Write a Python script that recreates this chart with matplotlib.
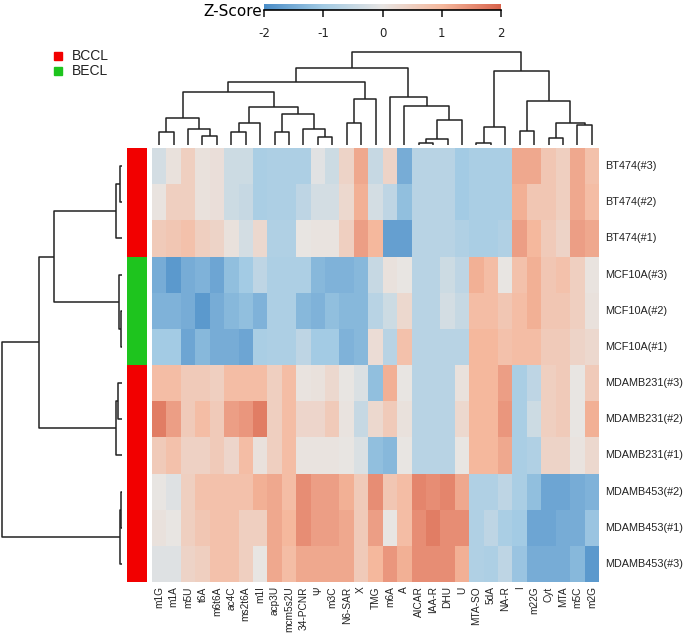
import numpy as np
import matplotlib
matplotlib.use("Agg")
import matplotlib.pyplot as plt
from matplotlib.colors import LinearSegmentedColormap, ListedColormap
from matplotlib.patches import Rectangle

# ---------------- data ----------------
col_labels = ["m1G", "m1A", "m5U", "t6A", "m6t6A", "ac4C", "ms2t6A", "m1I", "acp3U",
              "mcm5s2U", "34-PCNR", "Ψ", "m3C", "N6-SAR", "X", "TMG", "m6A", "A",
              "AICAR", "IAA-R", "DHU", "U", "MTA-SO", "5dA", "NA-R", "I", "m22G",
              "Cyt", "MTA", "m5C", "m2G"]
row_labels = ["BT474(#3)", "BT474(#2)", "BT474(#1)", "MCF10A(#3)", "MCF10A(#2)",
              "MCF10A(#1)", "MDAMB231(#3)", "MDAMB231(#2)", "MDAMB231(#1)",
              "MDAMB453(#2)", "MDAMB453(#1)", "MDAMB453(#3)"]
row_group = ["BCCL", "BCCL", "BCCL", "BECL", "BECL", "BECL",
             "BCCL", "BCCL", "BCCL", "BCCL", "BCCL", "BCCL"]

z_bt474_3 = [-0.3, 0.1, 0.5, 0.1, 0.15, -0.4, -0.4, -0.9, -0.85, -0.85, -0.85, -0.1, -0.4, 0.4, 1.2, -0.5,
             0.4, -1.5, -0.7, -0.7, -0.7, -1.0, -0.9, -0.9, -0.9, 1.2, 1.2, 0.7, 0.5, 1.2, 0.8]
z_bt474_2 = [0.05, 0.5, 0.5, 0.1, 0.15, -0.4, -0.5, -0.9, -0.85, -0.85, -0.6, -0.3, -0.3, 0.3, 1.1, -0.3,
             -0.6, -1.2, -0.7, -0.7, -0.7, -1.0, -0.9, -0.9, -0.9, 1.1, 0.7, 0.7, 0.5, 1.2, 0.9]
z_bt474_1 = [0.6, 0.7, 0.8, 0.5, 0.4, 0.1, -0.3, 0.3, -0.8, -0.8, 0.0, 0.05, 0.05, 0.5, 1.3, 1.0,
             -1.7, -1.7, -0.7, -0.7, -0.7, -0.8, -0.9, -0.9, -0.8, 1.3, 1.0, 0.6, 0.4, 1.3, 1.2]
z_mcf_3 = [-1.5, -1.8, -1.5, -1.4, -1.6, -1.2, -1.0, -0.6, -0.85, -0.85, -0.85, -1.3, -1.4, -1.4, -1.3, -0.5,
           0.1, 0.0, -0.7, -0.7, -0.4, -0.6, 1.1, 0.9, 0.0, 0.8, 1.1, 0.7, 0.8, 0.5, 0.05]
z_mcf_2 = [-1.4, -1.4, -1.5, -1.8, -1.5, -1.3, -1.2, -1.4, -0.85, -0.85, -1.3, -1.4, -1.2, -1.3, -1.3, -0.7,
           -0.4, 0.3, -0.7, -0.7, -0.3, -0.5, 0.9, 0.9, 0.7, 0.9, 1.1, 0.7, 0.7, 0.5, 0.1]
z_mcf_1 = [-1.0, -1.0, -1.6, -1.3, -1.5, -1.5, -1.6, -0.9, -0.85, -0.85, -0.6, -1.0, -1.0, -1.4, -1.3, 0.2,
           -0.7, 0.8, -0.7, -0.7, -0.7, -0.7, 1.0, 1.0, 0.8, 0.9, 0.9, 0.6, 0.6, 0.4, 0.3]
z_mda231_3 = [0.9, 0.9, 0.6, 0.6, 0.5, 0.9, 0.9, 0.9, 0.5, 0.9, 0.05, 0.1, 0.3, 0.0, -0.2, -1.2,
              1.1, 0.0, -0.7, -0.7, -0.7, 0.1, 1.0, 1.0, 1.3, -0.9, -0.6, 0.5, 0.6, 0.0, 0.6]
z_mda231_2 = [1.7, 1.3, 0.6, 0.9, 0.6, 1.3, 1.4, 1.7, 0.5, 0.9, 0.35, 0.35, 0.6, 0.05, -0.5, 0.3,
              0.6, 0.1, -0.7, -0.7, -0.7, 0.3, 1.0, 1.0, 1.4, -0.9, -0.4, 0.5, 0.6, 0.0, 1.1]
z_mda231_1 = [0.6, 0.8, 0.45, 0.45, 0.6, 0.35, 0.9, 0.1, 0.5, 0.9, 0.05, 0.05, 0.05, 0.0, -0.2, -1.2,
              -1.3, 0.0, -0.7, -0.7, -0.7, 0.0, 1.0, 1.0, 1.2, -0.9, -0.8, 0.4, 0.4, 0.05, 0.3]
z_mda453_2 = [0.0, -0.15, 0.5, 0.8, 0.8, 0.8, 0.8, 1.1, 1.2, 0.9, 1.5, 1.3, 1.3, 1.1, 0.6, 1.5,
              0.7, 0.9, 1.6, 1.5, 1.6, 1.2, -0.8, -0.8, -0.6, -0.9, -1.2, -1.6, -1.6, -1.5, -1.4]
z_mda453_1 = [0.1, 0.0, 0.5, 0.7, 0.8, 0.8, 0.5, 0.5, 1.2, 1.0, 1.5, 1.3, 1.3, 1.2, 0.6, 1.3,
              0.0, 0.9, 1.5, 1.7, 1.5, 1.5, -0.8, -0.6, -0.9, -1.0, -1.6, -1.6, -1.5, -1.5, -1.1]
z_mda453_3 = [-0.15, -0.15, 0.4, 0.5, 0.8, 0.8, 0.5, 0.0, 1.2, 0.9, 1.2, 1.2, 1.2, 1.2, 0.6, 1.0,
              1.4, 1.1, 1.5, 1.5, 1.5, 1.1, -0.8, -0.85, -0.6, -1.1, -1.5, -1.5, -1.5, -1.3, -1.8]

# linkage tables: (child_a, child_b, height); leaves are 0..n-1, new nodes n, n+1, ...
row_link = [(0, 1, 2), (12, 2, 6), (4, 5, 1), (3, 14, 3), (13, 15, 68),
            (6, 7, 4), (17, 8, 6), (16, 18, 83), (9, 10, 1), (20, 11, 2.5), (19, 21, 120)]
col_link = [(0, 1, 13), (3, 4, 9), (2, 32, 15.7), (31, 33, 26.7), (5, 6, 13.3),
            (35, 7, 22.3), (8, 9, 13), (11, 12, 7.7), (10, 38, 15.7), (37, 39, 31),
            (36, 40, 38.3), (34, 41, 53), (13, 14, 22.3), (43, 15, 45.7), (42, 44, 63.3),
            (18, 19, 2.3), (46, 20, 5.7), (47, 21, 24.7), (17, 48, 39), (16, 49, 48.3),
            (45, 50, 76.7), (22, 23, 1.7), (52, 24, 18.3), (25, 26, 14), (27, 28, 6.7),
            (29, 30, 19.7), (55, 56, 21.7), (54, 57, 44.3), (53, 58, 74.3), (51, 59, 92.7)]

cbar_ticks = [-2, -1, 0, 1, 2]
group_colors = {"BCCL": "#f20000", "BECL": "#1ec41e"}

Z = np.array([z_bt474_3, z_bt474_2, z_bt474_1, z_mcf_3, z_mcf_2, z_mcf_1,
              z_mda231_3, z_mda231_2, z_mda231_1, z_mda453_2, z_mda453_1, z_mda453_3])

# ---------------- figure ----------------
W, H = 685, 634
fig = plt.figure(figsize=(W / 100, H / 100), dpi=100)

def px_axes(x0, y0, x1, y1):
    return fig.add_axes([x0 / W, 1 - y1 / H, (x1 - x0) / W, (y1 - y0) / H])

cmap = LinearSegmentedColormap.from_list(
    "z", [(0.0, "#4a8dc8"), (0.25, "#a3cbe4"), (0.5, "#e8e5e3"), (0.75, "#f5b99e"), (1.0, "#d9634c")])

LAB = "Liberation Sans"
line_c = "#222222"

# heatmap
hx0, hx1, hy0, hy1 = 152, 599, 148, 582
axh = px_axes(hx0, hy0, hx1, hy1)
nr, nc = Z.shape
axh.pcolormesh(np.arange(nc + 1), np.arange(nr + 1), Z, cmap=cmap, vmin=-2, vmax=2)
axh.set_xlim(0, nc)
axh.set_ylim(nr, 0)
axh.axis("off")
for i, lab in enumerate(row_labels):
    axh.text(nc + 0.45, i + 0.5, lab, ha="left", va="center", fontsize=7.8, family=LAB, color="#222222")
for j, lab in enumerate(col_labels):
    axh.text(j + 0.5, nr + 0.12, lab, ha="center", va="top", rotation=90, fontsize=7.3,
             family=[LAB, "DejaVu Sans"], color="#222222")

# row annotation
axa = px_axes(127, hy0, 147, hy1)
grp_names = list(group_colors.keys())
codes = np.array([[grp_names.index(g)] for g in row_group])
axa.pcolormesh([0, 1], np.arange(nr + 1), codes,
               cmap=ListedColormap([group_colors[g] for g in grp_names]), vmin=-0.5, vmax=len(grp_names) - 0.5)
axa.set_ylim(nr, 0)
axa.axis("off")

def draw_dendro(ax, link, n, orient):
    pos = {i: i + 0.5 for i in range(n)}
    hgt = {i: 0.0 for i in range(n)}
    for k, (a, b, h) in enumerate(link):
        node = n + k
        pa, pb, ha, hb = pos[a], pos[b], hgt[a], hgt[b]
        if orient == "top":
            ax.plot([pa, pa, pb, pb], [ha, h, h, hb], color=line_c, lw=1.1, solid_capstyle="butt")
        else:
            ax.plot([ha, h, h, hb], [pa, pa, pb, pb], color=line_c, lw=1.1, solid_capstyle="butt")
        pos[node] = (pa + pb) / 2
        hgt[node] = h

# row dendrogram
axr = px_axes(0, hy0, 124, hy1)
draw_dendro(axr, row_link, nr, "left")
axr.set_xlim(122, -2)
axr.set_ylim(nr, 0)
axr.axis("off")

# column dendrogram
axc = px_axes(hx0, 40, hx1, hy0)
draw_dendro(axc, col_link, nc, "top")
axc.set_xlim(0, nc)
axc.set_ylim(-3, 105)
axc.axis("off")

# colorbar
axb = px_axes(264, 4, 501, 10)
grad = np.linspace(-2, 2, 256).reshape(1, -1)
axb.imshow(grad, aspect="auto", cmap=cmap, extent=[-2, 2, 0, 1], vmin=-2, vmax=2)
axb.set_xlim(-2, 2)
axb.set_ylim(0, 1)
for s in ["top", "left", "right"]:
    axb.spines[s].set_visible(False)
axb.spines["bottom"].set_linewidth(1.2)
axb.set_yticks([])
axb.set_xticks(cbar_ticks)
axb.set_xticklabels([str(t) for t in cbar_ticks], fontsize=8.5, family="DejaVu Sans")
axb.tick_params(axis="x", length=5, width=1.2, pad=7.5, colors="#222222")
fig.text(262 / W, 1 - 12 / H, "Z-Score", ha="right", va="center", fontsize=11, family="DejaVu Sans")

# legend
for k, g in enumerate(grp_names):
    y = 56 + 15 * k
    fig.patches.append(Rectangle(((54) / W, 1 - (y + 4) / H), 8 / W, 8 / H,
                                 transform=fig.transFigure, color=group_colors[g]))
    fig.text(72 / W, 1 - y / H, g, ha="left", va="center", fontsize=10, family=LAB, color="#222222")

fig.savefig("out.png", dpi=100)
